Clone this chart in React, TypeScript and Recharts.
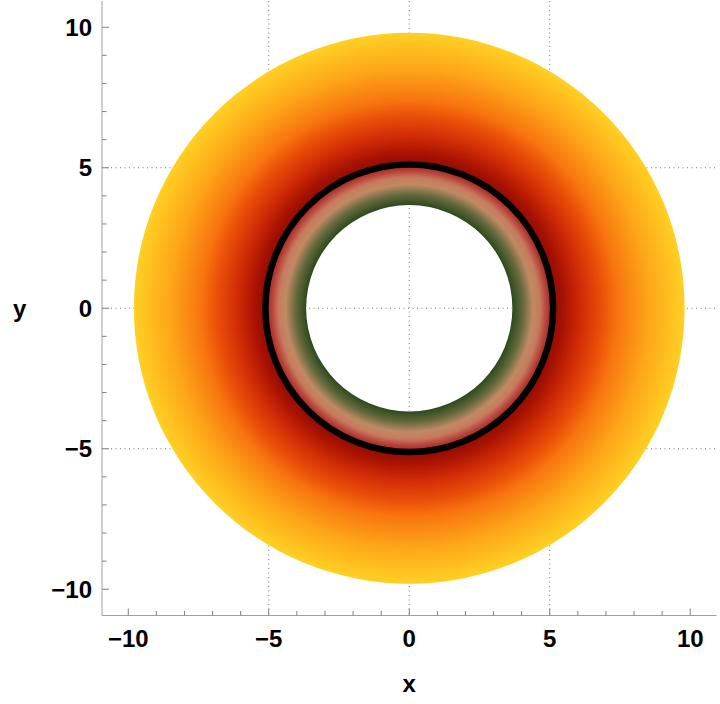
import React from 'react';
import {
  ComposedChart,
  XAxis,
  YAxis,
  CartesianGrid,
  ReferenceArea,
  Scatter,
} from 'recharts';

// annulus radii (plot units)
const fieldRadius = [5.12, 9.8];
const coreRadius = [3.67, 5.12];
const horizonRadius = [5.12];
const centerPoint = [{ x: 0, y: 0 }];

const axisDomain = [-10.935, 10.935];
const tickValues = [-10, -9, -8, -7, -6, -5, -4, -3, -2, -1, 0, 1, 2, 3, 4, 5, 6, 7, 8, 9, 10];
const majorTicks = [-10, -5, 0, 5, 10];
const gridValues = [-5, 0, 5];

const fieldStops = [
  { r: 5.0, color: '#860a02' },
  { r: 5.5, color: '#a81202' },
  { r: 6.1, color: '#d02a06' },
  { r: 6.9, color: '#ec5208' },
  { r: 7.4, color: '#f8740f' },
  { r: 8.5, color: '#fda518' },
  { r: 9.8, color: '#ffd024' },
];

const coreStops = [
  { r: 3.67, color: '#2c4a1c' },
  { r: 4.05, color: '#66693e' },
  { r: 4.4, color: '#bf8a64' },
  { r: 4.65, color: '#c87a5e' },
  { r: 4.9, color: '#b64038' },
  { r: 5.12, color: '#a2201c' },
];

const FRAME = '#a0a0a0';
const TICK = '#808080';
const FONT = '"Liberation Sans", Arial, sans-serif';

const fmt = (v: number) => (v < 0 ? `\u2212${Math.abs(v)}` : `${v}`);
const tickLen = (v: number) => (majorTicks.includes(v) ? 7 : 4.5);

function ringPath(cx: number, cy: number, R: number, r: number) {
  const circle = (rad: number) =>
    `M${cx - rad},${cy} A${rad},${rad} 0 1 0 ${cx + rad},${cy} A${rad},${rad} 0 1 0 ${cx - rad},${cy} Z`;
  return circle(R) + ' ' + circle(r);
}

function makeRing(id: string, radii: number[], stops: { r: number; color: string }[]) {
  return (p: any) => {
    const { x, y, width, height } = p;
    const cx = x + width / 2;
    const cy = y + height / 2;
    const R = width / 2;
    const r = (R * radii[0]) / radii[1];
    return (
      <g>
        <defs>
          <radialGradient id={id} cx="0.5" cy="0.5" r="0.5">
            {stops.map((s) => (
              <stop key={s.r} offset={Math.max(0, s.r / radii[1])} stopColor={s.color} />
            ))}
          </radialGradient>
        </defs>
        <path d={ringPath(cx, cy, R, r)} fill={`url(#${id})`} fillRule="evenodd" />
      </g>
    );
  };
}

const horizonShape = (p: any) => {
  const { x, y, width, height } = p;
  return (
    <circle cx={x + width / 2} cy={y + height / 2} r={width / 2} fill="none" stroke="#000" strokeWidth={6.5} />
  );
};

const BottomTick = (p: any) => {
  const { x, y, payload } = p;
  const v = payload.value;
  return (
    <g>
      <line x1={x} y1={y} x2={x} y2={y - tickLen(v)} stroke={TICK} strokeWidth={1} />
      {majorTicks.includes(v) && (
        <text x={x} y={y + 31.5} textAnchor="middle" fontFamily={FONT} fontWeight="bold" fontSize={24} fill="#000">
          {fmt(v)}
        </text>
      )}
    </g>
  );
};

const TopTick = (p: any) => {
  const { x, y, payload } = p;
  return <line x1={x} y1={y} x2={x} y2={y + tickLen(payload.value)} stroke={TICK} strokeWidth={1} />;
};

const LeftTick = (p: any) => {
  const { x, y, payload } = p;
  const v = payload.value;
  return (
    <g>
      <line x1={x} y1={y} x2={x + tickLen(v)} y2={y} stroke={TICK} strokeWidth={1} />
      {majorTicks.includes(v) && (
        <text x={x - 10} y={y + 8.5} textAnchor="end" fontFamily={FONT} fontWeight="bold" fontSize={24} fill="#000">
          {fmt(v)}
        </text>
      )}
    </g>
  );
};

const RightTick = (p: any) => {
  const { x, y, payload } = p;
  return <line x1={x} y1={y} x2={x - tickLen(payload.value)} y2={y} stroke={TICK} strokeWidth={1} />;
};

export default function App() {
  return (
    <div style={{ position: 'absolute', left: 0, top: 0, width: 720, height: 704 }}>
      <ComposedChart width={720} height={704} margin={{ top: 1, right: 3.5, bottom: 0, left: 0 }}>
        <CartesianGrid
          xAxisId="b"
          yAxisId="l"
          verticalValues={gridValues}
          horizontalValues={gridValues}
          stroke="#777777"
          strokeDasharray="1 3.5"
          strokeWidth={1}
        />
        <XAxis
          xAxisId="b"
          type="number"
          dataKey="x"
          domain={axisDomain}
          ticks={tickValues}
          interval={0}
          allowDataOverflow
          orientation="bottom"
          height={88.5}
          tickSize={0}
          tickMargin={0}
          tickLine={false}
          tick={<BottomTick />}
          axisLine={{ stroke: FRAME, strokeWidth: 1 }}
          label={{ value: 'x', position: 'insideBottom', offset: 12, fontFamily: FONT, fontWeight: 'bold', fontSize: 24, fill: '#000' }}
        />
        <XAxis
          xAxisId="t"
          type="number"
          dataKey="x"
          domain={axisDomain}
          ticks={tickValues}
          interval={0}
          allowDataOverflow
          orientation="top"
          height={0}
          tickSize={0}
          tickMargin={0}
          tickLine={false}
          tick={<TopTick />}
          axisLine={{ stroke: FRAME, strokeWidth: 1 }}
        />
        <YAxis
          yAxisId="l"
          type="number"
          dataKey="y"
          domain={axisDomain}
          ticks={tickValues}
          interval={0}
          allowDataOverflow
          orientation="left"
          width={102}
          tickSize={0}
          tickMargin={0}
          tickLine={false}
          tick={<LeftTick />}
          axisLine={{ stroke: FRAME, strokeWidth: 1 }}
          label={{ value: 'y', position: 'insideLeft', offset: 13, fontFamily: FONT, fontWeight: 'bold', fontSize: 24, fill: '#000' }}
        />
        <YAxis
          yAxisId="r"
          type="number"
          dataKey="y"
          domain={axisDomain}
          ticks={tickValues}
          interval={0}
          allowDataOverflow
          orientation="right"
          width={0}
          tickSize={0}
          tickMargin={0}
          tickLine={false}
          tick={<RightTick />}
          axisLine={{ stroke: FRAME, strokeWidth: 1 }}
        />
        <ReferenceArea
          xAxisId="b"
          yAxisId="l"
          x1={-fieldRadius[1]}
          x2={fieldRadius[1]}
          y1={-fieldRadius[1]}
          y2={fieldRadius[1]}
          shape={makeRing('fieldGrad', fieldRadius, fieldStops)}
        />
        <ReferenceArea
          xAxisId="b"
          yAxisId="l"
          x1={-coreRadius[1]}
          x2={coreRadius[1]}
          y1={-coreRadius[1]}
          y2={coreRadius[1]}
          shape={makeRing('coreGrad', coreRadius, coreStops)}
        />
        <ReferenceArea
          xAxisId="b"
          yAxisId="l"
          x1={-horizonRadius[0]}
          x2={horizonRadius[0]}
          y1={-horizonRadius[0]}
          y2={horizonRadius[0]}
          shape={horizonShape}
        />
        <Scatter xAxisId="b" yAxisId="l" data={centerPoint} fill="none" shape={() => <g />} isAnimationActive={false} />
      </ComposedChart>
    </div>
  );
}
